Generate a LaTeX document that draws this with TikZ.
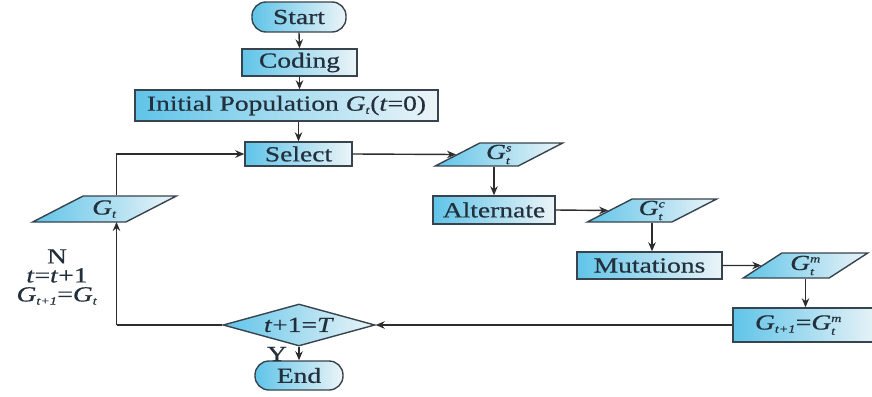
\documentclass[tikz,border=0pt]{standalone}
\usepackage{fontspec}
\setmainfont{Liberation Serif}[FakeStretch=1.28,FakeBold=0.6]
\usetikzlibrary{shapes.geometric,arrows.meta}
\definecolor{fillL}{RGB}{96,196,232}
\definecolor{fillR}{RGB}{236,244,248}
\definecolor{edge}{RGB}{55,68,78}
\definecolor{ink}{RGB}{35,48,60}
\definecolor{wire}{RGB}{45,45,45}
\newcommand{\smallit}[1]{\mbox{\fontsize{11}{11}\selectfont\textit{#1}}}
\newcommand{\gsym}[2]{\textit{G}\ensuremath{_{\smallit{#1}}^{\smallit{#2}}}}
\newcommand{\gsub}[1]{\textit{G}\ensuremath{_{\smallit{#1}}}}
\tikzset{
  base/.style={draw=edge, line width=1.4pt, left color=fillL, right color=fillR,
    inner sep=0pt, text=ink, font=\fontsize{21.5}{23}\selectfont},
  boxnode/.style={base, rectangle},
  termnode/.style={base, rectangle, rounded corners=14pt},
  ionode/.style={base, trapezium, trapezium left angle=33, trapezium right angle=147,
    trapezium stretches=true},
  decnode/.style={base, diamond, aspect=3.6},
  wirearrow/.style={draw=wire, line width=1.4pt, -{Stealth[length=9pt,width=7.5pt]}},
  wireline/.style={draw=wire, line width=1.4pt},
  lbl/.style={text=ink, font=\fontsize{21.5}{20}\selectfont, align=center, inner sep=0pt}
}
\begin{document}
\begin{tikzpicture}[x=1pt,y=-1pt]
\useasboundingbox (0,0) rectangle (872,396);
\clip (0,0) rectangle (872,396);
\node[termnode, minimum width=94pt, minimum height=30pt] (start) at (299,17) {Start};
\node[boxnode, minimum width=115pt, minimum height=27pt] (coding) at (299.5,62.5) {Coding};
\node[boxnode, minimum width=303pt, minimum height=31pt] (init) at (286.5,105.5) {Initial Population \gsub{t}(\textit{t}=0)};
\node[boxnode, minimum width=107pt, minimum height=24pt] (select) at (298.5,154) {Select};
\node[ionode, minimum width=145pt, minimum height=26pt, trapezium left angle=31, trapezium right angle=149] (gt) at (104.5,209) {\gsub{t}};
\node[ionode, minimum width=128pt, minimum height=23pt] (gts) at (499,154.5) {\gsym{t}{s}};
\node[boxnode, minimum width=122pt, minimum height=28pt] (alt) at (494,210) {Alternate};
\node[ionode, minimum width=130pt, minimum height=23pt] (gtc) at (652,210.5) {\gsym{t}{c}};
\node[boxnode, minimum width=145pt, minimum height=27pt] (mut) at (649.5,265.5) {Mutations};
\node[ionode, minimum width=125pt, minimum height=25pt, trapezium left angle=38, trapezium right angle=142] (gtm) at (805.5,265.5) {\gsym{t}{m}};
\node[boxnode, minimum width=148pt, minimum height=34pt, text width=140pt, align=left] (gnext) at (807,325) {\hspace{18pt}\gsub{t+1}=\gsym{t}{m}};
\node[decnode, minimum width=152pt, minimum height=42pt] (dec) at (299,325) {\textit{t}+1=\textit{T}};
\node[termnode, minimum width=88pt, minimum height=29pt] (end) at (299,375.5) {End};
\node[lbl] (nlbl) at (57,277) {N\\[-1pt]\textit{t}=\textit{t}+1\\[-1pt]\gsub{t+1}=\gsub{t}};
\node[lbl, anchor=center] (ylbl) at (277,354) {Y};
\coordinate (gtup) at (116.5,222);
\coordinate (corner) at (116.5,325);
\draw[wirearrow] (start.south) -- (coding.north);
\draw[wirearrow] (coding.south) -- (coding.south |- init.north);
\draw[wirearrow] (select.north |- init.south) -- (select.north);
\draw[wirearrow] ([xshift=12pt]gt.north) |- (select.west);
\draw[wirearrow] (select.east) -- (gts.west);
\draw[wirearrow] (alt.north |- gts.south) -- (alt.north);
\draw[wirearrow] (alt.east) -- (gtc.west);
\draw[wirearrow] (gtc.south) -- (gtc.south |- mut.north);
\draw[wirearrow] (mut.east) -- (gtm.west);
\draw[wirearrow] (gtm.south) -- (gtm.south |- gnext.north);
\draw[wirearrow] (gnext.west) -- (dec.east);
\draw[wireline] (dec.west) -- (corner);
\draw[wirearrow] (corner) -- (gtup);
\draw[wirearrow] (dec.south) -- (end.north);
\end{tikzpicture}
\end{document}
